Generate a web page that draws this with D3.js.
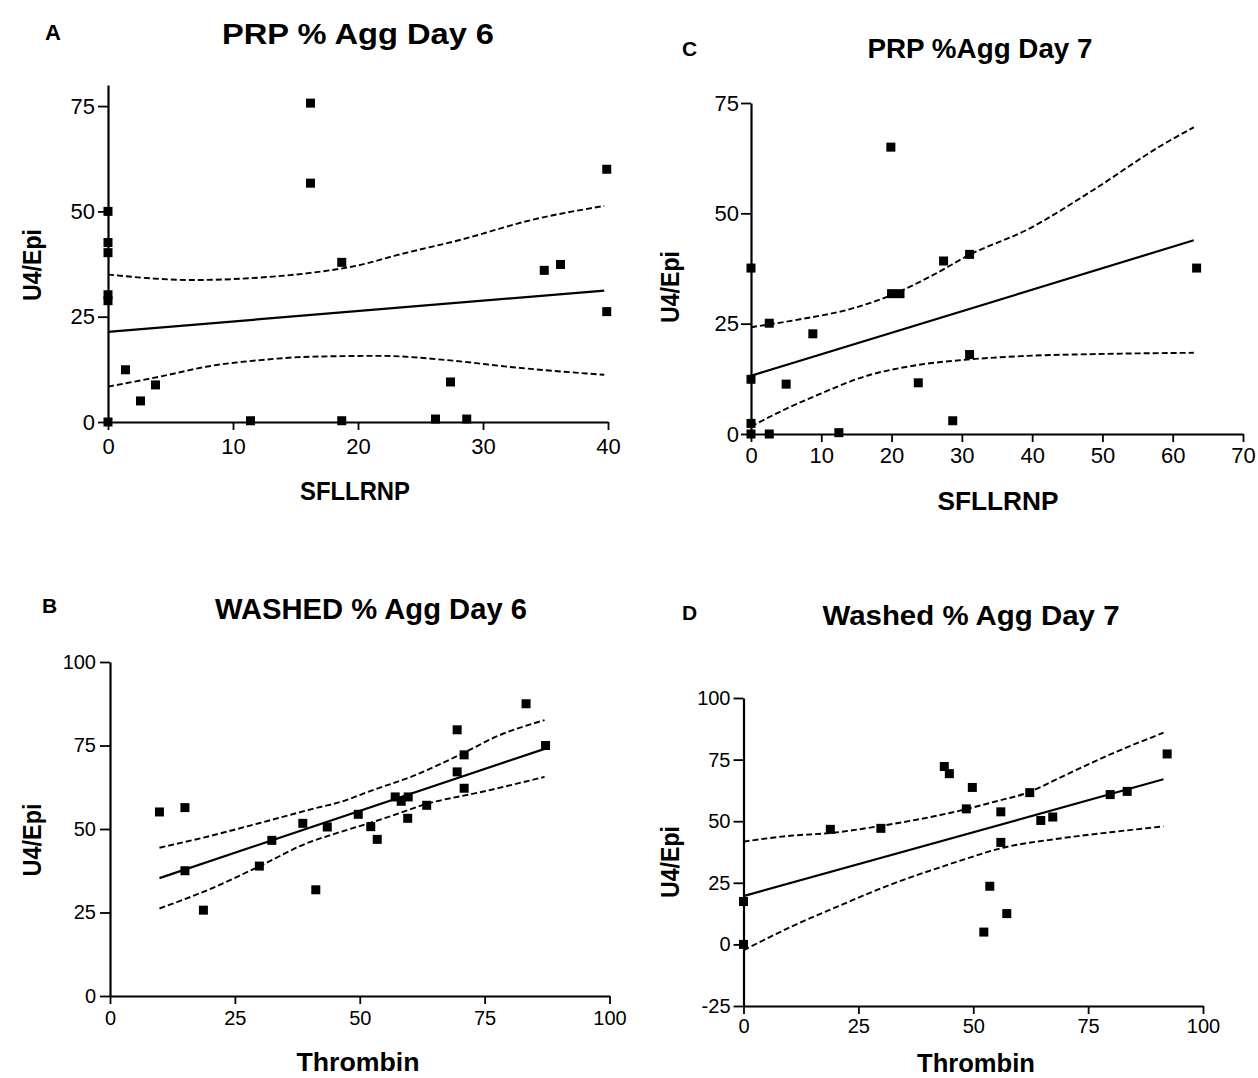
<!DOCTYPE html>
<html>
<head>
<meta charset="utf-8">
<script src="https://cdn.jsdelivr.net/npm/d3@7"></script>
<style>
  html, body { margin: 0; padding: 0; background: #fff; }
  svg { display: block; }
  text { font-family: "Liberation Sans", Arial, sans-serif; fill: #000; }
</style>
</head>
<body>
<svg id="fig" width="1258" height="1078"></svg>
<script>
// ---- Panel A: PRP % Agg Day 6 (SFLLRNP vs U4/Epi) ----
const prpDay6X = [0, 0, 0, 0, 0, 0, 1.4, 2.6, 3.8, 11.4, 16.2, 16.2, 18.7, 18.7, 26.2, 27.4, 28.7, 34.9, 36.2, 39.9, 39.9];
const prpDay6Y = [50, 42.6, 40.2, 30.2, 28.8, 0, 12.4, 5.0, 8.8, 0.3, 75.7, 56.7, 37.9, 0.3, 0.7, 9.5, 0.7, 36.0, 37.4, 60.0, 26.2];
const prpDay6FitX = [0, 39.7];
const prpDay6FitY = [21.4, 31.2];
const prpDay6UpperX = [0, 6.8, 12.2, 16.2, 20.2, 23.1, 28.4, 33.8, 39.7];
const prpDay6UpperY = [35.0, 33.7, 34.3, 35.4, 37.3, 39.6, 43.4, 47.9, 51.3];
const prpDay6LowerX = [0, 4.2, 8.2, 12.2, 16.2, 21.8, 27.1, 32.4, 39.7];
const prpDay6LowerY = [8.4, 10.8, 13.3, 14.7, 15.5, 15.7, 14.7, 13.0, 11.2];
const prpDay6TicksX = [0, 10, 20, 30, 40];
const prpDay6TicksY = [0, 25, 50, 75];

// ---- Panel C: PRP %Agg Day 7 ----
const prpDay7X = [0, 0, 0, 0, 2.6, 2.6, 5.0, 8.8, 12.5, 19.9, 20.0, 21.2, 23.8, 27.4, 28.7, 31.1, 31.1, 63.4];
const prpDay7Y = [37.6, 12.4, 2.4, 0, 25.1, 0, 11.3, 22.7, 0.3, 65.0, 31.8, 31.8, 11.6, 39.2, 3.0, 40.7, 18.0, 37.6];
const prpDay7FitX = [0, 63.0];
const prpDay7FitY = [13.2, 43.9];
const prpDay7UpperX = [0, 7.0, 14.1, 20.0, 26.0, 31.1, 39.3, 48.7, 58.2, 63.0];
const prpDay7UpperY = [24.2, 26.0, 28.3, 31.5, 36.1, 40.6, 46.3, 55.3, 65.2, 69.5];
const prpDay7LowerX = [0, 4.6, 9.4, 16.5, 23.6, 31.1, 39.3, 48.7, 63.0];
const prpDay7LowerY = [1.7, 5.4, 8.8, 13.2, 15.6, 16.9, 17.7, 18.1, 18.4];
const prpDay7TicksX = [0, 10, 20, 30, 40, 50, 60, 70];
const prpDay7TicksY = [0, 25, 50, 75];

// ---- Panel B: WASHED % Agg Day 6 (Thrombin vs U4/Epi) ----
const washedDay6X = [9.9, 15.0, 15.0, 18.7, 29.9, 32.4, 38.6, 41.2, 43.5, 49.7, 52.2, 53.5, 57.1, 58.3, 59.7, 59.6, 63.4, 69.5, 69.5, 70.9, 70.9, 83.3, 87.2];
const washedDay6Y = [55.1, 56.4, 37.5, 25.7, 38.9, 46.6, 51.7, 31.8, 50.6, 54.4, 50.7, 46.9, 59.6, 58.3, 59.6, 53.2, 57.1, 79.7, 67.1, 72.2, 62.2, 87.5, 75.0];
const washedDay6FitX = [9.9, 87.0];
const washedDay6FitY = [35.3, 74.0];
const washedDay6UpperX = [9.9, 20.0, 30.0, 40.0, 48.0, 50.7, 60.7, 70.7, 77.4, 87.0];
const washedDay6UpperY = [44.4, 47.9, 51.8, 55.8, 59.0, 60.6, 65.9, 72.7, 77.7, 82.6];
const washedDay6LowerX = [9.9, 20.0, 30.0, 40.0, 44.0, 54.1, 64.1, 74.1, 87.0];
const washedDay6LowerY = [26.2, 32.0, 38.9, 46.1, 48.1, 52.8, 57.8, 61.0, 65.6];
const washedDay6TicksX = [0, 25, 50, 75, 100];
const washedDay6TicksY = [0, 25, 50, 75, 100];

// ---- Panel D: Washed % Agg Day 7 ----
const washedDay7X = [0, 0, 18.9, 29.9, 43.7, 44.8, 48.5, 49.8, 52.3, 53.6, 56.0, 56.0, 57.3, 62.3, 64.7, 67.3, 79.8, 83.5, 92.2];
const washedDay7Y = [17.4, 0, 46.7, 47.1, 72.2, 69.3, 55.0, 63.7, 5.0, 23.6, 53.8, 41.4, 12.5, 61.6, 50.3, 51.7, 60.8, 62.1, 77.3];
const washedDay7FitX = [0, 91.4];
const washedDay7FitY = [19.6, 67.0];
const washedDay7UpperX = [0, 10.2, 18.9, 29.9, 42.8, 48.5, 54.4, 62.3, 68.9, 79.8, 91.4];
const washedDay7UpperY = [41.7, 44.1, 45.2, 48.1, 52.5, 54.9, 57.8, 61.9, 67.7, 77.1, 85.9];
const washedDay7LowerX = [0, 10.2, 21.0, 31.9, 42.8, 47.2, 56.0, 68.9, 79.8, 91.4];
const washedDay7LowerY = [-2.4, 7.0, 15.8, 24.2, 31.3, 34.0, 39.0, 43.0, 45.5, 47.9];
const washedDay7TicksX = [0, 25, 50, 75, 100];
const washedDay7TicksY = [-25, 0, 25, 50, 75, 100];

const zip = (xs, ys) => xs.map((x, i) => [x, ys[i]]);
// plain ASCII hyphen for negative tick values
const tickFmt = v => String(v);

const panels = [
  {
    letter: "A", title: "PRP  % Agg Day 6", xTitle: "SFLLRNP",
    xs: prpDay6X, ys: prpDay6Y, fitX: prpDay6FitX, fitY: prpDay6FitY,
    upX: prpDay6UpperX, upY: prpDay6UpperY, loX: prpDay6LowerX, loY: prpDay6LowerY,
    ticksX: prpDay6TicksX, ticksY: prpDay6TicksY,
    xDomain: [0, 40], xRange: [108, 608], yDomain: [0, 80], yRange: [422, 85],
    tickFont: 22, xPad: 8, yPad: 3,
    letterPos: [45, 40, 22], titlePos: [358, 44, 30, 272],
    yTitlePos: [41, 265, 72], xTitlePos: [355, 500, 110]
  },
  {
    letter: "C", title: "PRP %Agg Day 7", xTitle: "SFLLRNP",
    xs: prpDay7X, ys: prpDay7Y, fitX: prpDay7FitX, fitY: prpDay7FitY,
    upX: prpDay7UpperX, upY: prpDay7UpperY, loX: prpDay7LowerX, loY: prpDay7LowerY,
    ticksX: prpDay7TicksX, ticksY: prpDay7TicksY,
    xDomain: [0, 70], xRange: [751, 1243], yDomain: [0, 75], yRange: [434, 103],
    tickFont: 22, xPad: 5, yPad: 2,
    letterPos: [682, 56, 21], titlePos: [980, 58, 28, 225],
    yTitlePos: [679, 287, 72], xTitlePos: [998, 510, 121]
  },
  {
    letter: "B", title: "WASHED % Agg Day 6", xTitle: "Thrombin",
    xs: washedDay6X, ys: washedDay6Y, fitX: washedDay6FitX, fitY: washedDay6FitY,
    upX: washedDay6UpperX, upY: washedDay6UpperY, loX: washedDay6LowerX, loY: washedDay6LowerY,
    ticksX: washedDay6TicksX, ticksY: washedDay6TicksY,
    xDomain: [0, 100], xRange: [110, 609.5], yDomain: [0, 100], yRange: [996, 662],
    tickFont: 20, xPad: 7, yPad: 4,
    letterPos: [42, 613, 21], titlePos: [371, 619, 30, 312],
    yTitlePos: [41, 840, 73], xTitlePos: [358, 1071, 123]
  },
  {
    letter: "D", title: "Washed % Agg Day 7", xTitle: "Thrombin",
    xs: washedDay7X, ys: washedDay7Y, fitX: washedDay7FitX, fitY: washedDay7FitY,
    upX: washedDay7UpperX, upY: washedDay7UpperY, loX: washedDay7LowerX, loY: washedDay7LowerY,
    ticksX: washedDay7TicksX, ticksY: washedDay7TicksY,
    xDomain: [0, 100], xRange: [743.5, 1203], yDomain: [-25, 100], yRange: [1006, 698],
    tickFont: 20, xPad: 5, yPad: 3,
    letterPos: [682, 620, 21], titlePos: [971, 625, 28, 297],
    yTitlePos: [679, 862, 72], xTitlePos: [976, 1072, 118]
  }
];

const svg = d3.select("#fig");

panels.forEach(p => {
  const x = d3.scaleLinear().domain(p.xDomain).range(p.xRange);
  const y = d3.scaleLinear().domain(p.yDomain).range(p.yRange);
  const g = svg.append("g");

  // axes
  const xAxis = d3.axisBottom(x).tickValues(p.ticksX).tickFormat(tickFmt)
    .tickSize(8).tickSizeOuter(0).tickPadding(p.xPad);
  const yAxis = d3.axisLeft(y).tickValues(p.ticksY).tickFormat(tickFmt)
    .tickSize(10).tickSizeOuter(0).tickPadding(p.yPad);

  const gx = g.append("g").attr("transform", `translate(0,${p.yRange[0]})`).call(xAxis);
  const gy = g.append("g").attr("transform", `translate(${p.xRange[0]},0)`).call(yAxis);
  [gx, gy].forEach(a => {
    a.select(".domain").attr("stroke", "#000").attr("stroke-width", 2.2);
    a.selectAll(".tick line").attr("stroke", "#000").attr("stroke-width", 1.8);
    a.selectAll(".tick text")
      .attr("font-size", p.tickFont)
      .attr("font-family", "'Liberation Sans', Arial, sans-serif")
      .attr("fill", "#000");
  });

  // regression line and 95% confidence band
  const line = d3.line().x(d => x(d[0])).y(d => y(d[1]));
  const curve = d3.line().x(d => x(d[0])).y(d => y(d[1])).curve(d3.curveMonotoneX);

  g.append("path").datum(zip(p.fitX, p.fitY))
    .attr("d", line).attr("fill", "none").attr("stroke", "#000").attr("stroke-width", 2.2);
  [zip(p.upX, p.upY), zip(p.loX, p.loY)].forEach(band => {
    g.append("path").datum(band)
      .attr("d", curve).attr("fill", "none").attr("stroke", "#000")
      .attr("stroke-width", 1.9).attr("stroke-dasharray", "6,3");
  });

  // data points
  const s = 9;
  g.selectAll("rect.pt").data(zip(p.xs, p.ys)).enter().append("rect")
    .attr("class", "pt")
    .attr("x", d => x(d[0]) - s / 2).attr("y", d => y(d[1]) - s / 2)
    .attr("width", s).attr("height", s).attr("fill", "#000");

  // labels
  g.append("text").attr("x", p.letterPos[0]).attr("y", p.letterPos[1])
    .attr("font-size", p.letterPos[2]).attr("font-weight", "bold").text(p.letter);
  g.append("text").attr("x", p.titlePos[0]).attr("y", p.titlePos[1])
    .attr("text-anchor", "middle").attr("font-size", p.titlePos[2]).attr("font-weight", "bold")
    .attr("textLength", p.titlePos[3]).attr("lengthAdjust", "spacingAndGlyphs")
    .text(p.title);
  g.append("text")
    .attr("transform", `translate(${p.yTitlePos[0]},${p.yTitlePos[1]}) rotate(-90)`)
    .attr("text-anchor", "middle").attr("font-size", 26).attr("font-weight", "bold")
    .attr("textLength", p.yTitlePos[2]).attr("lengthAdjust", "spacingAndGlyphs")
    .text("U4/Epi");
  g.append("text").attr("x", p.xTitlePos[0]).attr("y", p.xTitlePos[1])
    .attr("text-anchor", "middle").attr("font-size", 25).attr("font-weight", "bold")
    .attr("textLength", p.xTitlePos[2]).attr("lengthAdjust", "spacingAndGlyphs")
    .text(p.xTitle);
});
</script>
</body>
</html>
